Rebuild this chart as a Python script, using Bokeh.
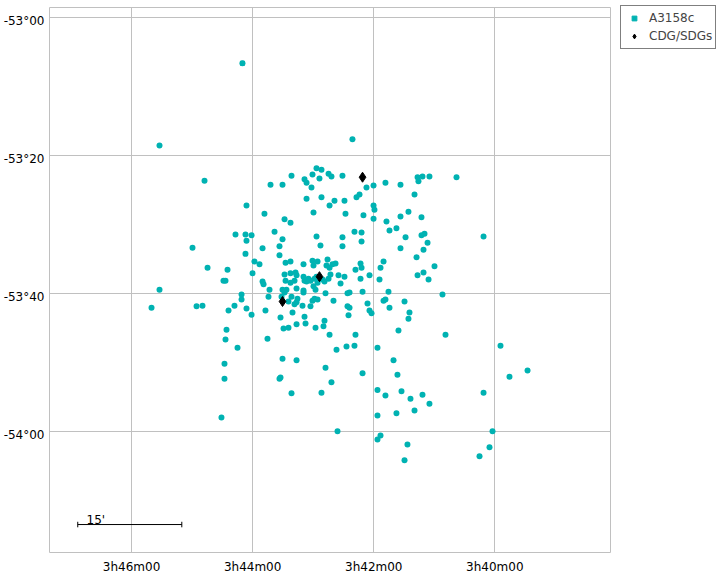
from bokeh.plotting import figure
from bokeh.models import Range1d, FixedTicker, Legend, LegendItem
from bokeh.embed import file_html
from bokeh.resources import INLINE
from bokeh.core.properties import value

# A3158c members: RA offset in seconds of time after 3h40m00s, Dec offset in arcmin south of -53°00'
ra_s = [250.1, 332.3, 141.1, 287.7, 222.3, 210.4, 201.5, 176.7, 171.8, 180.7,
        188.6, 186.6, 173.8, 164.8, 161.9, 181.7, 186.6, 171.8, 163.8, 179.7,
        246.1, 228.3, 208.4, 202.5, 218.3, 257.0, 247.1, 241.1, 246.1, 210.4,
        176.7, 172.8, 213.4, 230.2, 299.6, 247.1, 213.4, 238.2, 233.2, 207.4,
        202.5, 180.7, 175.7, 165.8, 189.6, 179.7, 166.8, 163.8, 160.9, 157.9,
        284.7, 264.9, 240.1, 268.9, 266.9, 230.2, 229.2, 332.3, 223.3, 251.0,
        251.0, 151.0, 120.2, 127.2, 108.4, 93.5, 76.6, 71.7, 64.8, 75.7,
        38.0, 134.1, 137.1, 79.6, 158.9, 149.0, 120.2, 119.3, 148.0, 130.2,
        120.2, 85.6, 93.5, 72.7, 107.4, 104.4, 97.5, 139.1, 132.1, 151.0,
        132.1, 88.5, 72.7, 69.7, 66.7, 11.2, 151.0, 93.5, 70.7, 77.6,
        110.3, 113.3, 59.8, 133.1, 132.1, 138.1, 154.9, 149.0, 124.2, 133.1,
        114.3, 76.6, 70.7, 65.7, 152.9, 144.0, 146.0, 131.1, 105.4, 51.9,
        189.6, 184.7, 182.7, 178.7, 176.7, 170.8, 164.8, 162.9, 188.6, 186.6,
        207.4, 202.5, 198.5, 168.8, 175.7, 208.4, 202.5, 197.5, 196.5, 179.7,
        177.7, 210.4, 206.5, 196.5, 189.6, 189.6, 167.8, 208.4, 224.3, 211.4,
        201.5, 195.6, 204.5, 196.5, 198.5, 190.6, 182.7, 180.7, 178.7, 175.7,
        159.9, 146.0, 144.0, 126.2, 124.2, 122.2, 227.3, 200.5, 188.6, 212.4,
        168.8, 196.5, 187.6, 209.4, 204.5, 177.7, 169.8, 145.0, 241.1, 340.2,
        295.6, 289.7, 258.0, 246.1, 263.9, 265.9, 266.9, 225.3, 255.0, 267.9,
        267.9, 210.4, 196.5, 213.4, 212.4, 167.8, 161.9, 201.5, 171.8, 270.9,
        163.8, 138.1, 110.3, 108.4, 104.4, 89.5, 84.6, 85.6, 95.5, 48.9,
        156.9, 147.0, 139.1, 116.3, 100.4, 96.5, 131.1, -5.6, -32.4, -14.5,
        11.2, 116.3, 92.5, 108.4, 71.7, 83.6, 64.8, 79.6, 116.3, 97.5,
        155.9, 113.3, 116.3, 86.6, 89.5, 2.3, 5.3, 15.2]
dec_m = [6.7, 18.6, 17.7, 23.7, 24.3, 24.3, 23.0, 21.9, 22.1, 22.8,
         23.5, 24.0, 23.4, 22.7, 23.1, 24.7, 26.3, 26.1, 27.3, 28.3,
         27.3, 28.5, 29.3, 29.8, 31.1, 31.5, 31.5, 31.6, 32.4, 32.2,
         31.8, 33.1, 33.2, 33.5, 33.4, 34.3, 34.5, 35.4, 35.8, 35.6,
         35.4, 35.3, 35.4, 35.1, 35.8, 36.0, 36.0, 36.3, 35.8, 35.7,
         36.3, 36.6, 37.1, 38.2, 38.2, 38.3, 38.7, 39.5, 39.5, 40.2,
         40.9, 23.0, 24.4, 24.7, 24.0, 24.3, 23.2, 23.1, 23.1, 23.8,
         23.2, 25.7, 26.1, 25.7, 26.6, 26.6, 27.3, 27.9, 28.5, 28.7,
         29.2, 28.2, 28.9, 29.0, 29.6, 30.9, 30.6, 31.1, 31.2, 31.9,
         32.5, 31.9, 31.6, 31.4, 32.7, 31.8, 33.2, 33.5, 33.7, 34.8,
         35.4, 36.3, 36.1, 35.7, 36.3, 36.6, 37.4, 37.6, 37.4, 37.9,
         38.0, 37.4, 37.0, 38.0, 38.6, 39.9, 40.0, 39.8, 39.8, 40.2,
         37.6, 37.9, 38.2, 37.9, 37.6, 38.0, 37.9, 37.3, 38.2, 38.3,
         38.2, 38.5, 38.2, 38.3, 38.5, 37.3, 37.1, 37.0, 37.4, 39.0,
         39.5, 39.5, 39.5, 39.3, 39.6, 39.9, 40.0, 39.9, 40.5, 40.5,
         40.5, 40.8, 41.2, 41.3, 41.6, 41.8, 41.9, 41.1, 40.8, 40.9,
         41.1, 41.9, 42.1, 41.5, 42.5, 42.9, 42.5, 42.8, 43.4, 43.5,
         44.0, 44.5, 44.4, 45.1, 45.0, 45.0, 44.8, 43.2, 43.1, 42.1,
         41.9, 41.8, 41.8, 42.2, 42.5, 45.3, 46.7, 46.6, 47.9, 50.2,
         52.4, 49.5, 49.7, 52.4, 52.2, 50.8, 52.9, 54.5, 54.4, 58.0,
         46.0, 46.0, 41.1, 40.9, 42.1, 41.2, 42.8, 43.7, 45.4, 46.0,
         48.2, 47.7, 47.6, 47.9, 49.7, 51.8, 51.6, 47.6, 51.2, 52.1,
         54.4, 54.0, 54.2, 54.8, 54.7, 55.3, 56.0, 57.0, 57.7, 57.4,
         60.0, 60.6, 61.2, 61.9, 64.2, 60.0, 62.3, 63.6]

# CDG/SDGs
cdg_ra = [131.1, 173.8, 210.4]
cdg_dec = [23.2, 37.6, 41.2]

ra_ticks = [0, 120, 240, 360]
ra_labels = ["3h40m00", "3h42m00", "3h44m00", "3h46m00"]
dec_ticks = [0, 20, 40, 60]
dec_labels = ["-53°00", "-53°20", "-53°40", "-54°00"]

scale_ra = [413.3, 310.2]
scale_dec = 73.5
scale_label = "15'"

TEAL = "#00b2b2"
GRID = "#c0c0c0"
FONT = "DejaVu Sans"
DEC_LABEL_DROP = 0.58  # labels hang just below their grid line (arcmin)

p = figure(frame_width=561, frame_height=545,
           x_range=Range1d(441.3, -114.6), y_range=Range1d(77.55, -1.38),
           output_backend="svg", toolbar_location=None,
           min_border_left=48, min_border_right=107, min_border_top=7, min_border_bottom=24)
p.background_fill_color = "white"
p.border_fill_color = "white"
p.outline_line_color = GRID

dec_label_pos = [t + DEC_LABEL_DROP for t in dec_ticks]
for ax, ticks, labels in ((p.xaxis[0], ra_ticks, ra_labels), (p.yaxis[0], dec_label_pos, dec_labels)):
    ax.ticker = FixedTicker(ticks=ticks)
    ax.major_label_overrides = {t: l for t, l in zip(ticks, labels)}
    ax.axis_line_color = None
    ax.major_tick_line_color = None
    ax.minor_tick_line_color = None
    ax.major_tick_out = 0
    ax.major_tick_in = 0
    ax.major_label_text_font = FONT
    ax.major_label_text_font_size = "12px"
    ax.major_label_text_color = "black"
p.xaxis.major_label_standoff = 7
p.yaxis.major_label_standoff = 5

p.xgrid.ticker = FixedTicker(ticks=ra_ticks)
p.ygrid.ticker = FixedTicker(ticks=dec_ticks)
p.grid.grid_line_color = GRID

# legend swatch (a small square hidden under the first member's dot)
sq = p.scatter(ra_s[:1], dec_m[:1], marker="square", size=4, fill_color=TEAL, line_color=TEAL)
p.scatter(ra_s, dec_m, marker="circle", size=6, fill_color=TEAL, line_color=None)
dia = p.scatter(cdg_ra, cdg_dec, marker="diamond", size=10, fill_color="black", line_color="black")

# scale bar
p.segment(x0=[scale_ra[0]], y0=[scale_dec], x1=[scale_ra[1]], y1=[scale_dec], line_color="black", line_width=1)
p.segment(x0=scale_ra, y0=[scale_dec - 0.4] * 2, x1=scale_ra, y1=[scale_dec + 0.4] * 2, line_color="black", line_width=1)
p.text(x=[scale_ra[0] - 8.7], y=[scale_dec - 0.6], text=[scale_label], text_font=value(FONT),
       text_font_size="12px", text_baseline="alphabetic", text_align="left", text_color="black")

legend = Legend(items=[LegendItem(label="A3158c", renderers=[sq]),
                       LegendItem(label="CDG/SDGs", renderers=[dia])],
                location=(10, 503), margin=0, padding=3, spacing=0,
                label_height=18, glyph_height=12, glyph_width=20, label_standoff=5,
                label_text_font=FONT, label_text_font_size="12px", label_text_baseline="hanging",
                border_line_color="black", border_line_width=1,
                background_fill_color="white", background_fill_alpha=1.0)
p.add_layout(legend, "right")

open("out.html", "w").write(file_html(p, INLINE))
